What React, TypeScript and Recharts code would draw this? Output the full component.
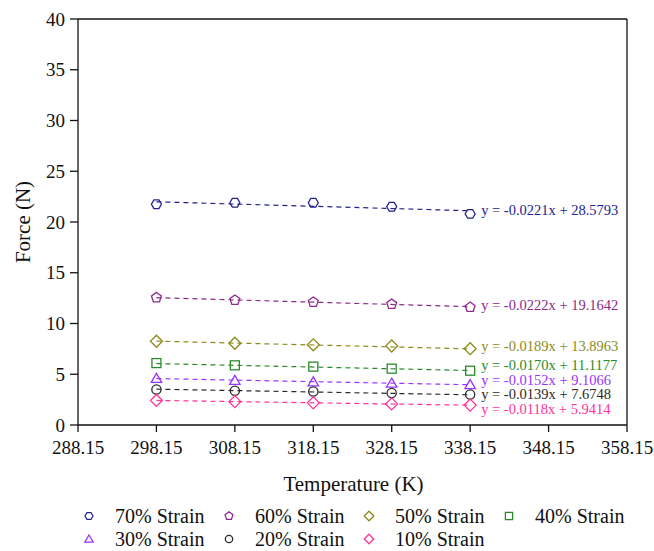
import {
  ComposedChart,
  Line,
  Scatter,
  XAxis,
  YAxis,
  ReferenceLine,
  Label,
} from 'recharts';

const temps = [298.15, 308.15, 318.15, 328.15, 338.15];
const xTicks = [288.15, 298.15, 308.15, 318.15, 328.15, 338.15, 348.15, 358.15];
const yTicks = [0, 5, 10, 15, 20, 25, 30, 35, 40];

const strain70 = [21.75, 21.9, 21.9, 21.5, 20.8];
const strain60 = [12.55, 12.3, 12.1, 11.9, 11.6];
const strain50 = [8.25, 8.05, 7.9, 7.78, 7.52];
const strain40 = [6.1, 5.88, 5.75, 5.55, 5.35];
const strain30 = [4.6, 4.4, 4.25, 4.12, 3.98];
const strain20 = [3.5, 3.38, 3.3, 3.15, 3.0];
const strain10 = [2.42, 2.3, 2.18, 2.08, 1.96];

// fitted lines as printed on the chart
const slopes = [-0.0221, -0.0222, -0.0189, -0.017, -0.0152, -0.0139, -0.0118];
const intercepts = [28.5793, 19.1642, 13.8963, 11.1177, 9.1066, 7.6748, 5.9414];

const names = ['70% Strain', '60% Strain', '50% Strain', '40% Strain', '30% Strain', '20% Strain', '10% Strain'];

type Kind = 'hexagon' | 'pentagon' | 'diamond' | 'square' | 'triangle' | 'circle';

const series: { values: number[]; color: string; kind: Kind; eqDy: number }[] = [
  { values: strain70, color: '#23238e', kind: 'hexagon', eqDy: -1 },
  { values: strain60, color: '#8b2a8b', kind: 'pentagon', eqDy: -2 },
  { values: strain50, color: '#8c8c1c', kind: 'diamond', eqDy: -3 },
  { values: strain40, color: '#2b8b2b', kind: 'square', eqDy: -5.5 },
  { values: strain30, color: '#9933ff', kind: 'triangle', eqDy: -5 },
  { values: strain20, color: '#2a2a2a', kind: 'circle', eqDy: -0.8 },
  { values: strain10, color: '#ff3399', kind: 'diamond', eqDy: 3.5 },
];

const FONT = "Liberation Serif, 'DejaVu Serif', Tinos, Times, serif";

function polygon(cx: number, cy: number, r: number, n: number, rot: number) {
  const pts: string[] = [];
  for (let i = 0; i < n; i++) {
    const a = rot + (i * 2 * Math.PI) / n;
    pts.push(`${cx + r * Math.cos(a)},${cy + r * Math.sin(a)}`);
  }
  return pts.join(' ');
}

function Marker({ cx, cy, kind, color, s = 1 }: { cx: number; cy: number; kind: Kind; color: string; s?: number }) {
  const common = { fill: 'none', stroke: color, strokeWidth: 1.3 };
  switch (kind) {
    case 'hexagon':
      return <polygon points={polygon(cx, cy, 5 * s, 6, 0)} {...common} />;
    case 'pentagon':
      return <polygon points={polygon(cx, cy, 5.2 * s, 5, -Math.PI / 2)} {...common} />;
    case 'diamond':
      return <polygon points={polygon(cx, cy, 6 * s, 4, 0)} {...common} />;
    case 'square':
      return <rect x={cx - 4.5 * s} y={cy - 4.5 * s} width={9 * s} height={9 * s} {...common} />;
    case 'triangle':
      return <polygon points={polygon(cx, cy + 1 * s, 6 * s, 3, -Math.PI / 2)} {...common} />;
    default:
      return <circle cx={cx} cy={cy} r={4.6 * s} {...common} />;
  }
}

function eqText(i: number) {
  const b = intercepts[i].toFixed(4);
  return `y = ${slopes[i].toFixed(4)}x + ${b}`;
}

export default function App() {
  const first = temps[0];
  const last = temps[temps.length - 1];

  return (
    <div
      style={{
        position: 'absolute',
        left: 0,
        top: 0,
        width: 654,
        height: 551,
        background: '#fff',
        fontFamily: FONT,
      }}
    >
      <ComposedChart width={654} height={551} margin={{ top: 19, right: 27, bottom: 0, left: 0 }}>
        <XAxis
          dataKey="t"
          type="number"
          domain={[288.15, 358.15]}
          ticks={xTicks}
          tickFormatter={(v: number) => v.toFixed(2)}
          height={126}
          tickSize={7}
          tickMargin={9}
          tick={{ fontSize: 19, fill: '#111', fontFamily: FONT }}
          axisLine={{ stroke: '#111', strokeWidth: 1.3 }}
          tickLine={{ stroke: '#111', strokeWidth: 1.3 }}
          allowDataOverflow
        >
          <Label
            content={({ viewBox }: any) => (
              <text
                x={viewBox.x + viewBox.width / 2 + 1}
                y={491}
                textAnchor="middle"
                fontSize={21}
                fontFamily={FONT}
                fill="#111"
              >
                Temperature (K)
              </text>
            )}
          />
        </XAxis>
        <YAxis
          type="number"
          domain={[0, 40]}
          ticks={yTicks}
          width={78}
          tickSize={8}
          tickMargin={5}
          tick={{ fontSize: 19, fill: '#111', fontFamily: FONT }}
          axisLine={{ stroke: '#111', strokeWidth: 1.3 }}
          tickLine={{ stroke: '#111', strokeWidth: 1.3 }}
        >
          <Label
            content={({ viewBox }: any) => {
              const cx = 23;
              const cy = viewBox.y + viewBox.height / 2;
              return (
                <text
                  x={cx}
                  y={cy}
                  transform={`rotate(-90 ${cx} ${cy})`}
                  textAnchor="middle"
                  dominantBaseline="central"
                  fontSize={21}
                  fontFamily={FONT}
                  fill="#111"
                >
                  Force (N)
                </text>
              );
            }}
          />
        </YAxis>
        <ReferenceLine y={40} stroke="#111" strokeWidth={1.3} />
        <ReferenceLine x={358.15} stroke="#111" strokeWidth={1.3} />

        {series.map((s, i) => (
          <Line
            key={`fit-${i}`}
            data={[
              { t: first, v: slopes[i] * first + intercepts[i] },
              { t: last, v: slopes[i] * last + intercepts[i] },
            ]}
            dataKey="v"
            type="linear"
            stroke={s.color}
            strokeWidth={1.2}
            strokeDasharray="5 4"
            dot={false}
            activeDot={false}
            isAnimationActive={false}
            label={(p: any) =>
              p.index === 1 ? (
                <text
                  key={`eq-${i}`}
                  x={p.x + 11}
                  y={p.y + s.eqDy}
                  dominantBaseline="central"
                  fontSize={14.5}
                  fontFamily={FONT}
                  fill={s.color}
                >
                  {eqText(i)}
                </text>
              ) : (
                <g key={`eq-${i}-${p.index}`} />
              )
            }
          />
        ))}

        {series.map((s, i) => (
          <Scatter
            key={`pts-${i}`}
            data={temps.map((t, j) => ({ t, v: s.values[j] }))}
            dataKey="v"
            isAnimationActive={false}
            shape={(p: any) => <Marker cx={p.cx} cy={p.cy} kind={s.kind} color={s.color} />}
          />
        ))}
      </ComposedChart>

      <div style={{ position: 'absolute', left: 0, top: 502, width: 654 }}>
        {series.map((s, i) => {
          const col = i < 4 ? i : i - 4;
          const row = i < 4 ? 0 : 1;
          const mx = 89 + col * 140;
          const my = 14 + row * 23;
          return (
            <div key={names[i]}>
              <svg
                style={{ position: 'absolute', left: mx - 8, top: my - 8 }}
                width={16}
                height={16}
              >
                <Marker cx={8} cy={8} kind={s.kind} color={s.color} s={0.8} />
              </svg>
              <div
                style={{
                  position: 'absolute',
                  left: mx + 26,
                  top: my - 12,
                  fontSize: 20,
                  lineHeight: '24px',
                  color: '#111',
                  whiteSpace: 'nowrap',
                }}
              >
                {names[i]}
              </div>
            </div>
          );
        })}
      </div>
    </div>
  );
}
